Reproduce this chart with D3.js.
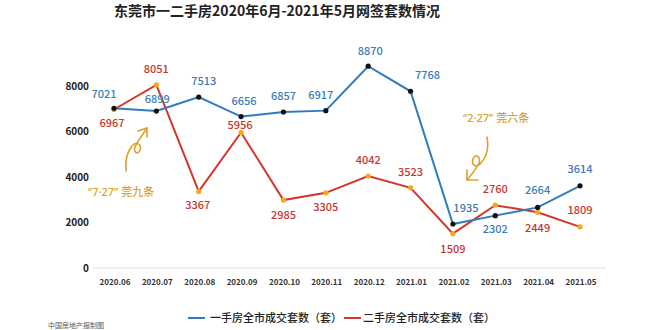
<!DOCTYPE html>
<html><head><meta charset="utf-8">
<script src="https://cdn.jsdelivr.net/npm/d3@7"></script>
<style>body{margin:0;background:#fff;}svg{display:block;font-family:"Noto Sans CJK SC","Noto Sans",sans-serif;}</style>
</head><body>
<svg id="c" width="660" height="330"></svg>
<script>
const categories = ["2020.06","2020.07","2020.08","2020.09","2020.10","2020.11","2020.12","2021.01","2021.02","2021.03","2021.04","2021.05"];
const newHomes = [7021,6899,7513,6656,6857,6917,8870,7768,1935,2302,2664,3614];
const resale = [6967,8051,3367,5956,2985,3305,4042,3523,1509,2760,2449,1809];
const yTicks = [0,2000,4000,6000,8000];
const seriesNames = ["一手房全市成交套数（套）","二手房全市成交套数（套）"];
const title = "东莞市一二手房2020年6月-2021年5月网签套数情况";
// label placement: dx, dy relative to point
const newLabelPos = [[-10,-10],[1,-8],[5,-12],[3,-12],[0,-12],[-5,-12],[2,-11],[17,-12],[13,-12],[0,17],[0,-13],[0,-13]];
const resaleLabelPos = [[-2,17],[0,-12],[-1,18],[-1,-4],[0,19],[0,18],[0,-12],[0,-12],[0,19],[0,-12],[0,20],[0,-13]];

const svg = d3.select("#c");
const x = d3.scalePoint().domain(categories).range([114,580]);
const y = d3.scaleLinear().domain([0,8000]).range([268,86]);
const BLUE="#2f7bbd", RED="#d2372d", BLUE_T="#3b7db6", RED_T="#c9362f", GOLD="#d9a22d";

svg.append("text").attr("x",277).attr("y",16).attr("text-anchor","middle")
  .attr("font-size",14).attr("font-weight","bold").attr("fill","#222").text(title);

// baseline
svg.append("line").attr("x1",93).attr("x2",606).attr("y1",y(0)).attr("y2",y(0))
  .attr("stroke","#dcdcdc").attr("stroke-width",1);

// y ticks
svg.append("g").selectAll("text").data(yTicks).join("text")
  .attr("x",89).attr("y",d=>y(d)).attr("dy","0.35em").attr("text-anchor","end")
  .attr("font-size",10).attr("font-weight","bold").attr("fill","#222").text(d=>d);

// x ticks
svg.append("g").selectAll("text").data(categories).join("text")
  .attr("x",d=>x(d)+1).attr("y",285).attr("text-anchor","middle")
  .attr("font-size",8).attr("font-weight","bold").attr("fill","#333").text(d=>d);

const line = d3.line().x((d,i)=>x(categories[i])).y(d=>y(d));

svg.append("path").datum(resale).attr("d",line).attr("fill","none").attr("stroke",RED).attr("stroke-width",2);
svg.append("path").datum(newHomes).attr("d",line).attr("fill","none").attr("stroke",BLUE).attr("stroke-width",2);

svg.append("g").selectAll("circle").data(resale).join("circle")
  .attr("cx",(d,i)=>x(categories[i])).attr("cy",d=>y(d)).attr("r",2.6).attr("fill","#f4a91b");
svg.append("g").selectAll("circle").data(newHomes).join("circle")
  .attr("cx",(d,i)=>x(categories[i])).attr("cy",d=>y(d)).attr("r",2.6).attr("fill","#111");

svg.append("g").selectAll("text").data(newHomes).join("text")
  .attr("x",(d,i)=>x(categories[i])+newLabelPos[i][0]).attr("y",(d,i)=>y(d)+newLabelPos[i][1])
  .attr("text-anchor","middle").attr("font-size",11).attr("font-weight",500).attr("fill",BLUE_T).text(d=>d);
svg.append("g").selectAll("text").data(resale).join("text")
  .attr("x",(d,i)=>x(categories[i])+resaleLabelPos[i][0]).attr("y",(d,i)=>y(d)+resaleLabelPos[i][1])
  .attr("text-anchor","middle").attr("font-size",11).attr("font-weight",500).attr("fill",RED_T).text(d=>d);

// annotations
const annFont = "'Noto Sans','Noto Sans CJK SC',sans-serif";
svg.append("text").attr("x",88).attr("y",196).attr("font-size",11).attr("font-family",annFont).attr("fill",GOLD).attr("font-weight",500).text("“7·27”  莞九条");
svg.append("text").attr("x",463).attr("y",122).attr("font-size",11).attr("font-family",annFont).attr("fill",GOLD).attr("font-weight",500).text("“2·27”  莞六条");

const ann = svg.append("g").attr("fill","none").attr("stroke",GOLD).attr("stroke-width",1.6).attr("stroke-linecap","round").attr("stroke-linejoin","round");
ann.append("path").attr("d","M126,171 C125,160 127,152 132,146 C136,141 142,144 140,150 C138,156 132,152 136,145 C139,139 144,133 147,128");
ann.append("path").attr("d","M138,131 L147,128 L147,137");
ann.append("path").attr("d","M487,137 C489,148 486,158 480,164 C476,168 471,165 473,159 C475,153 481,156 479,163 C476,170 471,175 467,180");
ann.append("path").attr("d","M467,170 L467,180 L478,180");

// legend
const lg = svg.append("g");
lg.append("line").attr("x1",188).attr("x2",205).attr("y1",318).attr("y2",318).attr("stroke",BLUE).attr("stroke-width",2);
lg.append("text").attr("x",210).attr("y",322).attr("font-size",11).attr("font-weight",500).attr("fill","#222").text(seriesNames[0]);
lg.append("line").attr("x1",344).attr("x2",361).attr("y1",318).attr("y2",318).attr("stroke",RED).attr("stroke-width",2);
lg.append("text").attr("x",363).attr("y",322).attr("font-size",11).attr("font-weight",500).attr("fill","#222").text(seriesNames[1]);

svg.append("text").attr("x",48).attr("y",328).attr("font-size",7).attr("fill","#555").text("中国房地产报制图");
</script>
</body></html>
